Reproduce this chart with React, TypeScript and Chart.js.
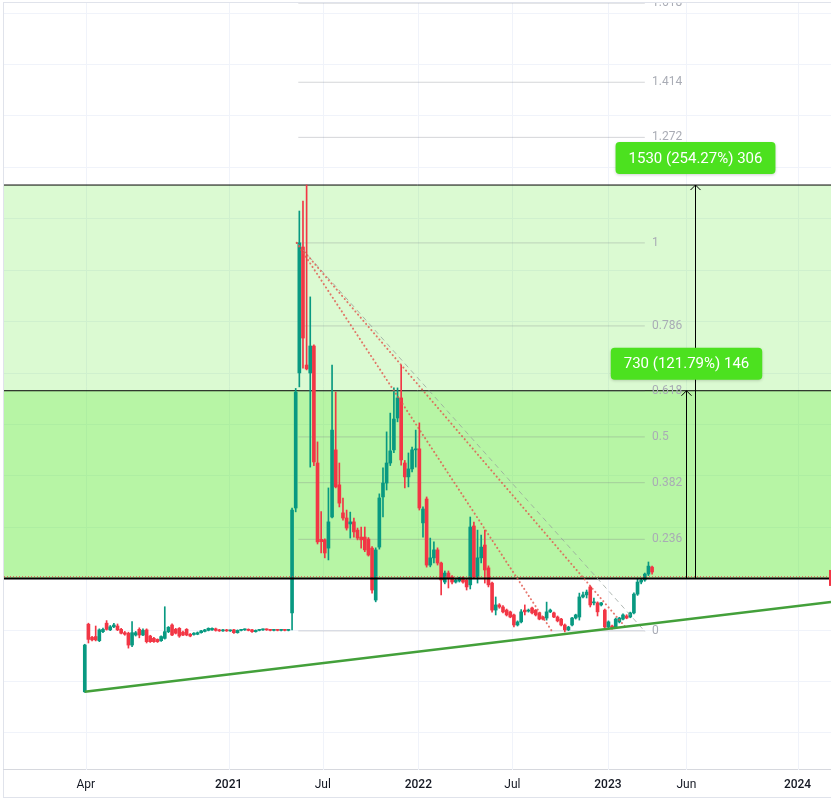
import React, { useEffect, useRef } from 'react';
import { Chart, registerables } from 'chart.js';

Chart.register(...registerables);

// Weekly candles [open, high, low, close]; first week starts 2 days before 1 Apr 2020
const candles: [number, number, number, number][] = [
  [160, 345, 158, 342], [423, 427, 350, 364], [372, 376, 358, 362], [375, 416, 358, 362],
  [359, 405, 355, 401], [394, 408, 390, 403], [427, 437, 400, 403], [401, 418, 398, 413],
  [413, 426, 410, 420], [416, 424, 398, 401], [403, 407, 385, 388], [390, 395, 380, 384],
  [388, 392, 330, 342], [342, 433, 336, 390], [381, 395, 377, 390], [403, 409, 370, 381],
  [381, 405, 378, 399], [401, 405, 350, 355], [377, 380, 352, 355], [368, 372, 352, 355],
  [364, 366, 352, 355], [359, 378, 356, 375], [368, 491, 365, 394], [394, 414, 390, 411],
  [420, 424, 378, 381], [403, 407, 385, 388], [407, 410, 372, 377], [392, 396, 378, 381],
  [403, 406, 378, 381], [384, 387, 374, 377], [383, 390, 380, 388], [384, 393, 382, 390],
  [390, 399, 388, 397], [395, 403, 393, 401], [399, 409, 397, 407], [401, 409, 399, 407],
  [405, 408, 396, 399], [401, 403, 395, 397], [397, 403, 395, 401], [401, 403, 395, 397],
  [397, 401, 395, 399], [401, 403, 387, 390], [390, 401, 388, 399], [399, 403, 397, 401],
  [401, 405, 399, 403], [403, 405, 397, 399], [401, 403, 391, 394], [394, 401, 392, 399],
  [399, 403, 397, 401], [401, 405, 399, 403], [403, 405, 399, 401], [401, 403, 397, 399],
  [399, 403, 397, 401], [401, 403, 397, 399], [399, 403, 397, 401], [401, 403, 397, 399],
  [399, 403, 397, 401], [467, 875, 401, 867], [875, 1340, 860, 1326], [1400, 2030, 1346, 1906],
  [1890, 2069, 1419, 1536], [1431, 2131, 1412, 1416], [1400, 1696, 1034, 1505], [1505, 1510, 1040, 1054],
  [1050, 1132, 735, 743], [753, 861, 700, 744], [751, 755, 681, 700], [719, 953, 673, 821],
  [840, 1431, 836, 1178], [1101, 1326, 953, 957], [965, 1050, 879, 894], [856, 914, 828, 836],
  [836, 867, 789, 797], [813, 859, 758, 821], [821, 836, 762, 782], [789, 797, 751, 758],
  [762, 801, 719, 751], [762, 801, 705, 712], [754, 760, 688, 692], [719, 725, 544, 556],
  [517, 720, 510, 712], [723, 930, 715, 914], [918, 1031, 840, 972], [972, 1171, 945, 1050],
  [1050, 1244, 1040, 1097], [1101, 1342, 1090, 1221], [1225, 1342, 1210, 1303], [1303, 1431, 1042, 1062],
  [1050, 1060, 953, 996], [996, 1089, 957, 1027], [1027, 1112, 1015, 1101], [1101, 1178, 1034, 1105],
  [1105, 1206, 867, 875], [817, 880, 762, 871], [910, 918, 645, 653], [653, 758, 646, 681],
  [681, 743, 661, 712], [712, 720, 653, 661], [661, 665, 537, 595], [587, 630, 580, 622],
  [622, 630, 564, 603], [607, 612, 580, 587], [587, 598, 583, 595], [591, 606, 587, 603],
  [603, 607, 583, 587], [595, 599, 556, 568], [576, 840, 560, 801], [805, 820, 600, 607],
  [607, 789, 583, 681], [681, 770, 661, 723], [731, 789, 583, 634], [642, 650, 568, 576],
  [583, 587, 470, 478], [478, 529, 459, 498], [498, 503, 485, 490], [490, 495, 467, 471],
  [478, 482, 455, 459], [471, 474, 448, 451], [459, 462, 412, 420], [420, 436, 416, 432],
  [432, 480, 428, 471], [478, 498, 459, 471], [474, 482, 470, 478], [486, 490, 463, 467],
  [478, 480, 455, 459], [467, 470, 440, 443], [451, 454, 440, 443], [447, 509, 439, 471],
  [471, 482, 468, 478], [467, 470, 448, 451], [451, 455, 432, 436], [443, 446, 416, 420],
  [420, 424, 393, 401], [401, 415, 398, 412], [420, 450, 416, 447], [447, 462, 443, 459],
  [451, 544, 439, 529], [529, 548, 525, 537], [537, 556, 525, 548], [568, 572, 490, 498],
  [506, 525, 498, 509], [506, 510, 455, 471], [498, 508, 494, 506], [478, 482, 405, 412],
  [412, 436, 408, 432], [416, 420, 404, 408], [412, 447, 410, 443], [432, 450, 428, 447],
  [443, 463, 440, 459], [455, 460, 444, 447], [451, 470, 448, 467], [467, 545, 463, 540],
  [540, 599, 535, 587], [587, 600, 580, 595], [595, 622, 590, 618], [618, 665, 612, 649],
  [645, 649, 618, 626],
];
const firstCandleDay = -2; // days from 1 Apr 2020
const candleStepDays = 7;

// x axis (days from 1 Apr 2020)
const xMin = -157.5;
const xMax = 1434.4;
const xTickDays = [0, 275, 456, 640, 821, 1005, 1156, 1370];
const xTickLabels = ['Apr', '2021', 'Jul', '2022', 'Jul', '2023', 'Jun', '2024'];

// y axis (price)
const yMin = -144;
const yMax = 2839;
const yGridValues = [0, 200, 400, 600, 800, 1000, 1200, 1400, 1600, 1800, 2000, 2200, 2400, 2600, 2800];

// Fibonacci retracement
const fibRatios = [0, 0.236, 0.382, 0.5, 0.618, 0.786, 1, 1.272, 1.414, 1.618];
const fibLabels = ['0', '0.236', '0.382', '0.5', '0.618', '0.786', '1', '1.272', '1.414', '1.618'];
const fibLow = 397;
const fibHigh = 1906;
const fibStartDay = 409;
const fibEndDay = 1076;
const fibLabelDay = 1090;

// Long position / price range
const entryPrice = 601;
const targetHigh = 2131;
const targetMid = 1331;
const rangeDays = [1173, 1155];
const rangeTargets = [2131, 1331];
const rangeLabels = ['1530 (254.27%) 306', '730 (121.79%) 146'];

// Last price marker (price range of the cut-off axis tag)
const lastPriceTag = [572, 634];

// Trend lines [day, price]
const supportLine = [[-2, 160], [1434.4, 509]];
const dotLineUpper = [[406, 1906], [1042, 404]];
const dotLineLower = [[406, 1906], [897, 397]];
const dashLine = [[406, 1906], [1077, 393]];

const GREEN = '#089981';
const RED = '#f23645';
const GRID = '#f0f3fa';

function pts(arr: number[][]) {
  return arr.map(([x, y]) => ({ x, y }));
}

const gridPlugin = {
  id: 'xgrid',
  beforeDatasetsDraw(chart: any) {
    const { ctx, chartArea, scales } = chart;
    const x = scales.x;
    ctx.save();
    ctx.strokeStyle = GRID;
    ctx.lineWidth = 1;
    xTickDays.forEach((d) => {
      const px = Math.round(x.getPixelForValue(d)) + 0.5;
      ctx.beginPath();
      ctx.moveTo(px, chartArea.top);
      ctx.lineTo(px, chartArea.bottom);
      ctx.stroke();
    });
    ctx.restore();
  },
};

const overlayPlugin = {
  id: 'overlay',
  afterDatasetsDraw(chart: any) {
    const { ctx, chartArea, scales } = chart;
    const x = scales.x;
    const y = scales.y;
    ctx.save();
    ctx.beginPath();
    ctx.rect(chartArea.left, chartArea.top, chartArea.right - chartArea.left, chartArea.bottom - chartArea.top);
    ctx.clip();

    // fib labels
    ctx.font = '12px Roboto, "Noto Sans", sans-serif';
    ctx.fillStyle = '#a9acb5';
    ctx.textAlign = 'left';
    ctx.textBaseline = 'middle';
    fibRatios.forEach((r, i) => {
      const v = fibLow + r * (fibHigh - fibLow);
      ctx.fillText(fibLabels[i], x.getPixelForValue(fibLabelDay), y.getPixelForValue(v));
    });

    // last price tag at the right edge
    const t0 = y.getPixelForValue(lastPriceTag[1]);
    const t1 = y.getPixelForValue(lastPriceTag[0]);
    ctx.fillStyle = RED;
    ctx.fillRect(chartArea.right - 2, t0, 2, t1 - t0);

    // range arrows + labels
    rangeDays.forEach((d, i) => {
      const px = Math.round(x.getPixelForValue(d)) + 0.5;
      const y0 = y.getPixelForValue(entryPrice);
      const y1 = y.getPixelForValue(rangeTargets[i]);
      ctx.strokeStyle = '#000';
      ctx.lineWidth = 1;
      ctx.beginPath();
      ctx.moveTo(px, y0);
      ctx.lineTo(px, y1);
      ctx.stroke();
      ctx.beginPath();
      ctx.moveTo(px - 5, y1 + 5);
      ctx.lineTo(px, y1);
      ctx.lineTo(px + 5, y1 + 5);
      ctx.stroke();

      const text = rangeLabels[i];
      ctx.font = '15px Roboto, "Noto Sans", sans-serif';
      const tw = ctx.measureText(text).width;
      const bw = tw + 26;
      const bh = 32;
      const cy = y1 - 27;
      const bx = px - bw / 2;
      const by = cy - bh / 2;
      ctx.save();
      ctx.shadowColor = 'rgba(0,0,0,0.18)';
      ctx.shadowBlur = 3;
      ctx.shadowOffsetY = 1;
      ctx.fillStyle = '#4ce11f';
      ctx.beginPath();
      ctx.roundRect(bx, by, bw, bh, 4);
      ctx.fill();
      ctx.restore();
      ctx.fillStyle = '#ffffff';
      ctx.textAlign = 'center';
      ctx.textBaseline = 'middle';
      ctx.fillText(text, px, cy + 1);
    });
    ctx.restore();
  },
};

export default function App() {
  const ref = useRef<HTMLCanvasElement | null>(null);

  useEffect(() => {
    if (!ref.current) return;
    const bodies = candles.map((c, i) => ({
      x: firstCandleDay + i * candleStepDays,
      y: [Math.min(c[0], c[3]), Math.max(c[0], c[3])],
    }));
    const wicks = candles.map((c, i) => ({
      x: firstCandleDay + i * candleStepDays,
      y: [c[2], c[1]],
    }));
    const colors = candles.map((c) => (c[3] >= c[0] ? GREEN : RED));

    const fibDatasets = fibRatios.map((r) => {
      const v = fibLow + r * (fibHigh - fibLow);
      return {
        type: 'line',
        data: [{ x: fibStartDay, y: v }, { x: fibEndDay, y: v }],
        borderColor: 'rgba(120,123,134,0.32)',
        borderWidth: 1,
        pointRadius: 0,
        fill: false,
        order: 80,
      };
    });

    const chart = new Chart(ref.current, {
      type: 'bar',
      data: {
        datasets: [
          {
            type: 'line',
            data: [{ x: xMin, y: targetHigh }, { x: xMax, y: targetHigh }],
            borderColor: '#000',
            borderWidth: 1,
            pointRadius: 0,
            fill: { value: entryPrice },
            backgroundColor: 'rgba(76,230,30,0.2)',
            order: 100,
          },
          {
            type: 'line',
            data: [{ x: xMin, y: targetMid }, { x: xMax, y: targetMid }],
            borderColor: '#000',
            borderWidth: 1,
            pointRadius: 0,
            fill: { value: entryPrice },
            backgroundColor: 'rgba(76,230,30,0.25)',
            order: 90,
          },
          ...(fibDatasets as any[]),
          {
            type: 'bar',
            data: wicks,
            backgroundColor: colors,
            barThickness: 1,
            grouped: false,
            order: 20,
          },
          {
            type: 'bar',
            data: bodies,
            backgroundColor: colors,
            barThickness: 3,
            minBarLength: 1,
            grouped: false,
            order: 19,
          },
          {
            type: 'line',
            data: [{ x: xMin, y: entryPrice }, { x: xMax, y: entryPrice }],
            borderColor: '#000',
            borderWidth: 2,
            pointRadius: 0,
            fill: false,
            order: 10,
          },
          {
            type: 'line',
            data: [{ x: xMin, y: entryPrice + 7 }, { x: xMax, y: entryPrice + 7 }],
            borderColor: 'rgba(242,54,69,0.8)',
            borderWidth: 1,
            borderDash: [1, 2],
            pointRadius: 0,
            fill: false,
            order: 9,
          },
          {
            type: 'line',
            data: pts(dashLine),
            borderColor: 'rgba(150,160,155,0.75)',
            borderWidth: 1,
            borderDash: [5, 4],
            pointRadius: 0,
            fill: false,
            order: 8,
          },
          {
            type: 'line',
            data: pts(dotLineUpper),
            borderColor: 'rgba(225,85,75,0.8)',
            borderWidth: 2,
            borderDash: [0.1, 4],
            borderCapStyle: 'round',
            pointRadius: 0,
            fill: false,
            order: 7,
          },
          {
            type: 'line',
            data: pts(dotLineLower),
            borderColor: 'rgba(225,85,75,0.8)',
            borderWidth: 2,
            borderDash: [0.1, 4],
            borderCapStyle: 'round',
            pointRadius: 0,
            fill: false,
            order: 6,
          },
          {
            type: 'line',
            data: pts(supportLine),
            borderColor: '#43a03a',
            borderWidth: 2.5,
            pointRadius: 0,
            fill: false,
            order: 5,
          },
        ] as any,
      },
      options: {
        animation: false,
        responsive: true,
        maintainAspectRatio: false,
        layout: { padding: 0 },
        plugins: {
          legend: { display: false },
          tooltip: { enabled: false },
        },
        scales: {
          x: {
            type: 'linear',
            min: xMin,
            max: xMax,
            offset: false,
            afterBuildTicks: (s: any) => {
              s.ticks = xTickDays.map((v) => ({ value: v }));
            },
            afterFit: (s: any) => {
              s.height = 27;
            },
            grid: { display: false, drawTicks: false, offset: false },
            border: { display: false },
            ticks: {
              autoSkip: false,
              maxRotation: 0,
              padding: 8,
              callback: (_v: any, i: number) => xTickLabels[i],
              color: '#131722',
              font: (c: any) => ({
                family: 'Roboto, "Noto Sans", sans-serif',
                size: 12,
                weight: /^\d{4}$/.test(xTickLabels[c.index] || '') ? '500' : '400',
              }),
            },
          },
          y: {
            type: 'linear',
            position: 'right',
            min: yMin,
            max: yMax,
            afterBuildTicks: (s: any) => {
              s.ticks = yGridValues.map((v) => ({ value: v }));
            },
            afterFit: (s: any) => {
              s.width = 0;
            },
            grid: { color: GRID, drawTicks: false },
            border: { display: false },
            ticks: { display: false },
          },
        },
      } as any,
      plugins: [gridPlugin, overlayPlugin],
    });
    return () => chart.destroy();
  }, []);

  return (
    <div style={{ position: 'fixed', left: 0, top: 0, width: 831, height: 800, background: '#fff', overflow: 'hidden' }}>
      <div
        style={{
          position: 'absolute',
          left: 3,
          top: 2,
          width: 840,
          height: 796,
          border: '1px solid #e0e3eb',
          boxSizing: 'border-box',
        }}
      />
      <div
        style={{
          position: 'absolute',
          left: 3,
          top: 769,
          width: 840,
          height: 1,
          background: '#d6d8de',
        }}
      />
      <div style={{ position: 'absolute', left: 4, top: 3, width: 827, height: 794 }}>
        <canvas ref={ref} />
      </div>
    </div>
  );
}
